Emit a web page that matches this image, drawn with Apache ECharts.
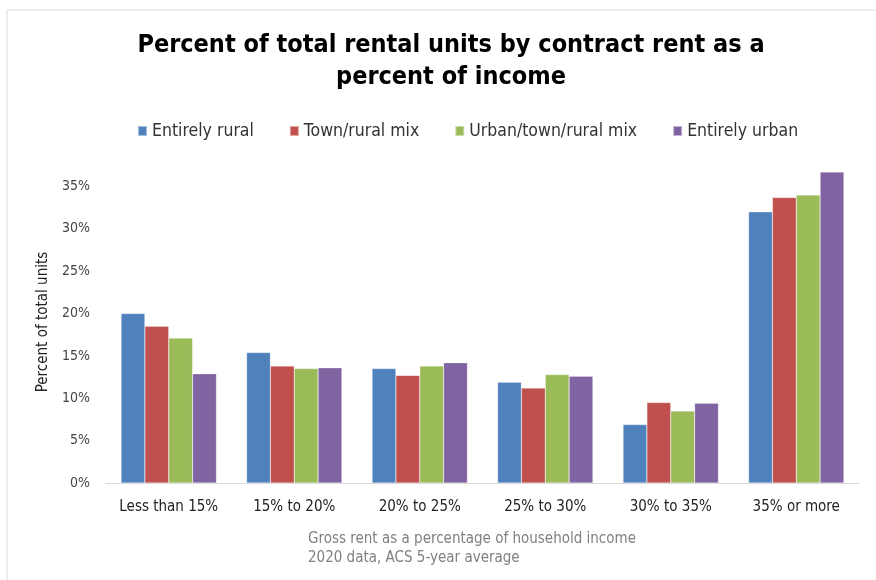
<!DOCTYPE html>
<html>
<head>
<meta charset="utf-8">
<script src="https://cdn.jsdelivr.net/npm/echarts@6/dist/echarts.min.js"></script>
<style>
  html, body { margin: 0; padding: 0; background: #fff; }
  #chart { width: 876px; height: 580px; }
</style>
</head>
<body>
<div id="chart"></div>
<script>
var categories = ['Less than 15%', '15% to 20%', '20% to 25%', '25% to 30%', '30% to 35%', '35% or more'];
var seriesNames = ['Entirely rural', 'Town/rural mix', 'Urban/town/rural mix', 'Entirely urban'];
var entirelyRural = [20.0, 15.4, 13.5, 11.9, 6.9, 32.0];
var townRuralMix = [18.5, 13.8, 12.7, 11.2, 9.5, 33.7];
var urbanTownRuralMix = [17.1, 13.5, 13.8, 12.8, 8.5, 34.0];
var entirelyUrban = [12.9, 13.6, 14.2, 12.6, 9.4, 36.7];
var colors = ['#4f81bd', '#c0504d', '#9bbb59', '#8064a2'];

var dom = document.getElementById('chart');
var myChart = echarts.init(dom);

var font = "'Liberation Sans Narrow', 'DejaVu Sans Condensed', 'Noto Sans', sans-serif";
var allData = [entirelyRural, townRuralMix, urbanTownRuralMix, entirelyUrban];

var option = {
    animation: false,
    color: colors,
    textStyle: { fontFamily: font },
    legend: {
        top: 117,
        left: 132,
        itemWidth: 9,
        itemHeight: 10,
        itemGap: 35,
        icon: 'rect',
        textStyle: { fontSize: 17.5, color: '#333' },
        data: seriesNames
    },
    graphic: [
        {
            type: 'rect',
            shape: { x: 7, y: 10, width: 900, height: 600 },
            style: { fill: 'none', stroke: '#d9d9d9', lineWidth: 1 },
            silent: true
        },
        {
            // chart title
            type: 'text',
            x: 451,
            y: 29,
            style: {
                text: 'Percent of total rental units by contract rent as a\npercent of income',
                align: 'center',
                fill: '#000',
                fontSize: 25,
                fontWeight: 'bold',
                lineHeight: 32,
                fontFamily: font
            }
        },
        {
            type: 'text',
            left: 308,
            top: 530,
            style: {
                text: 'Gross rent as a percentage of household income\n2020 data, ACS 5-year average',
                fill: '#808080',
                fontSize: 15,
                lineHeight: 19,
                fontFamily: font
            }
        }
    ],
    grid: { left: 106, right: 17, top: 161, bottom: 97 },
    xAxis: {
        type: 'category',
        data: categories,
        axisLine: { lineStyle: { color: '#d9d9d9' } },
        axisTick: { show: false },
        axisLabel: { color: '#222', fontSize: 15, margin: 17, interval: 0 }
    },
    yAxis: {
        type: 'value',
        min: 0,
        max: 38,
        interval: 5,
        name: 'Percent of total units',
        nameLocation: 'middle',
        nameGap: 55,
        nameTextStyle: { fontSize: 15, color: '#222' },
        axisLine: { show: false },
        axisTick: { show: false },
        splitLine: { show: false },
        axisLabel: {
            color: '#444',
            fontSize: 14,
            margin: 16,
            showMaxLabel: false,
            formatter: '{value}%'
        }
    },
    series: seriesNames.map(function (name, i) {
        return {
            name: name,
            type: 'bar',
            barGap: '0%',
            barCategoryGap: '24%',
            data: allData[i],
            itemStyle: { borderColor: 'rgba(255,255,255,0.5)', borderWidth: 0.5 }
        };
    })
};

if (option && typeof option === 'object') {
    myChart.setOption(option);
}
</script>
</body>
</html>
